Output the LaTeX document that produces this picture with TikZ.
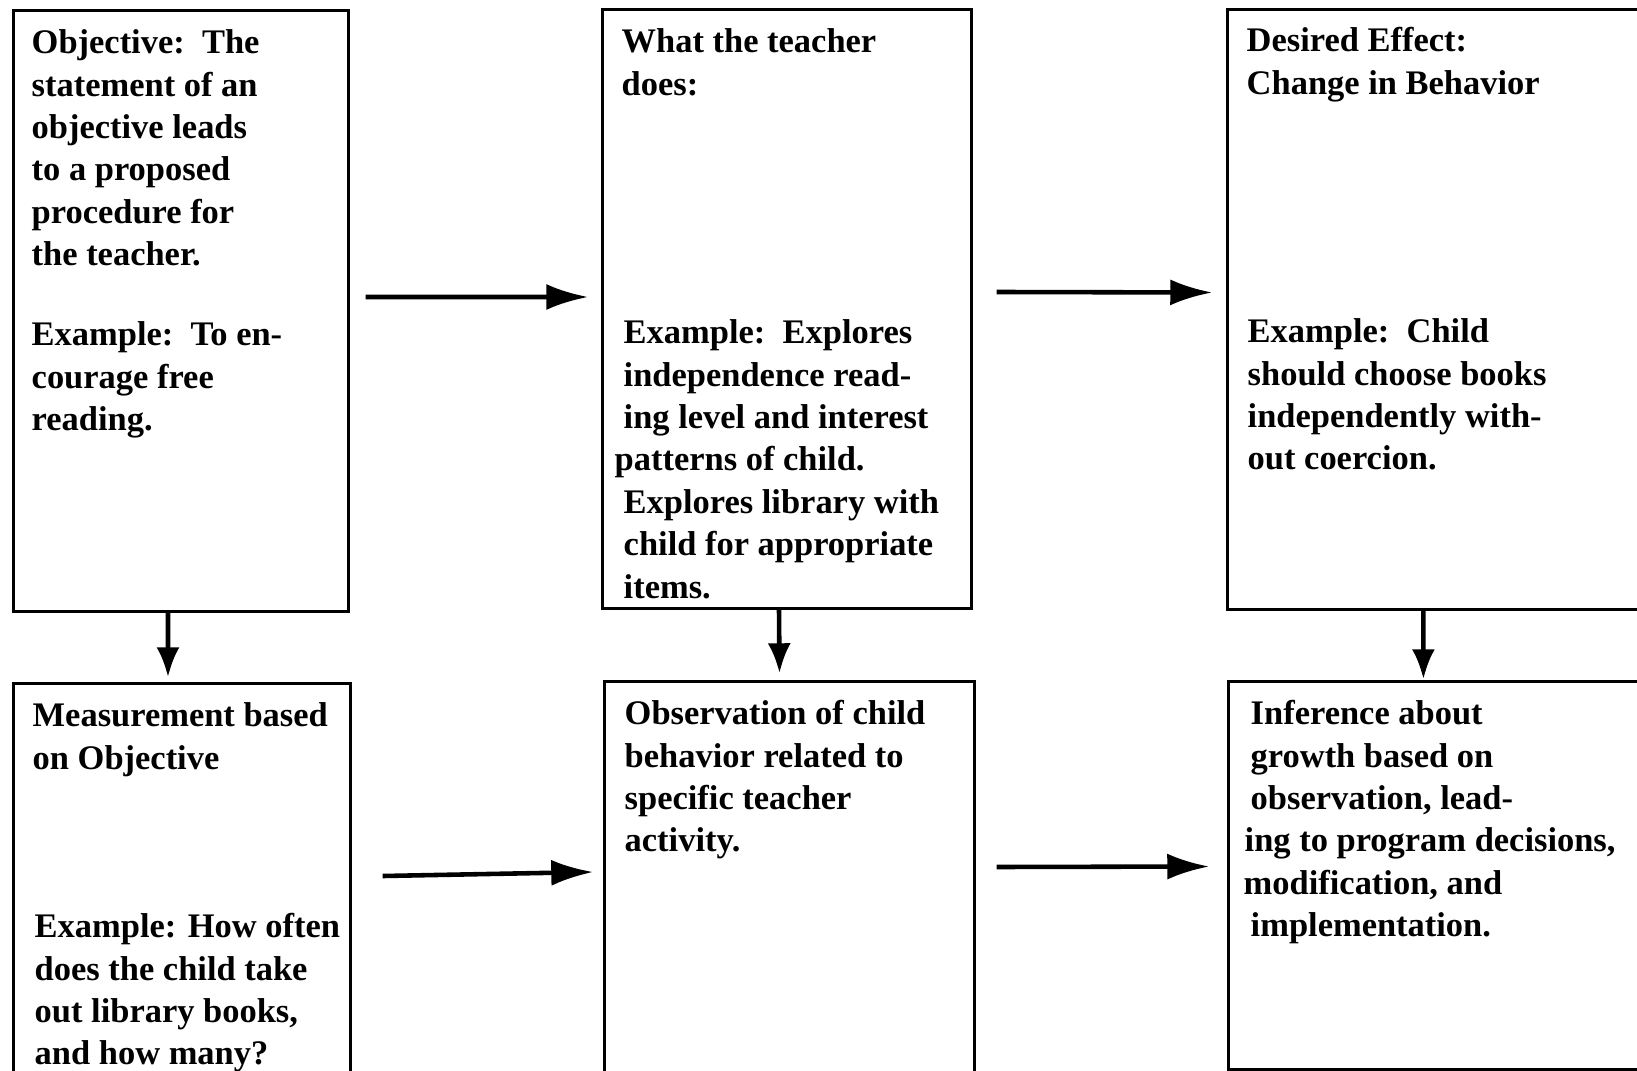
\documentclass[tikz,border=0pt]{standalone}
\usepackage{fontspec}
\setmainfont{Liberation Serif}
\usetikzlibrary{arrows.meta}

\tikzset{
  box/.style={draw, line width=0.9pt, inner sep=0pt},
  txt/.style={anchor=base west, inner sep=0pt, align=left,
    font=\fontsize{9.8}{12.04}\selectfont\bfseries},
  flow/.style={line width=1.3pt, -{Latex[length=0.42cm,width=0.26cm]}},
  drop/.style={line width=1.3pt, -{Latex[length=0.3cm,width=0.23cm]}}
}

\begin{document}
\begin{tikzpicture}[x=0.01cm, y=-0.01cm]
  \useasboundingbox (0,0) rectangle (1637,1070);
  \clip (0,0) rectangle (1637,1070);

  % Draw the boxes, top row
  \node[box, minimum width=3.34cm, minimum height=6cm] (obj) at (181,311) {};
  \node[box, minimum width=3.68cm, minimum height=5.98cm] (teach) at (787,309) {};
  \node[box, minimum width=4.72cm, minimum height=5.99cm] (effect) at (1464,309.5) {};

  % Draw the boxes, bottom row
  \node[box, minimum width=3.36cm, minimum height=3.9cm] (meas) at (182,879) {};
  \node[box, minimum width=3.69cm, minimum height=3.92cm] (obs) at (789.5,878) {};
  \node[box, minimum width=4.71cm, minimum height=3.87cm] (infer) at (1464.5,875.5) {};

  % Texts of the top row (placed at the baseline of their last line)
  \node[txt] (objhead) at (31,265.5) {Objective:\ \ The\\statement of an\\objective leads\\to a proposed\\procedure for\\the teacher.};
  \node[txt] (objex) at (31,430.6) {Example:\ \ To en-\\courage free\\reading.};

  \node[txt] (teachhead) at (621,95.3) {What the teacher\\does:};
  \node[txt] (teachex) at (623,598) {Example:\ \ Explores\\independence read-\\ing level and interest\\\hspace*{-0.09cm}patterns of child.\\Explores library with\\child for appropriate\\items.};

  \node[txt] (effecthead) at (1246,94.3) {Desired Effect:\\Change in Behavior};
  \node[txt] (effectex) at (1247,469.9) {Example:\ \ Child\\should choose books\\independently with-\\out coercion.};

  % Texts of the bottom row
  \node[txt] (meashead) at (32,769.3) {Measurement based\\on Objective};
  \node[txt] (measex) at (34,1064.9) {Example: How often\\does the child take\\out library books,\\and how many?};

  \node[txt] (obstext) at (624,851.9) {Observation of child\\behavior related to\\specific teacher\\activity.};

  \node[txt] (infertext) at (1250,936.5) {Inference about\\growth based on\\observation, lead-\\\hspace*{-0.06cm}ing to program decisions,\\\hspace*{-0.07cm}modification, and\\implementation.};

  % Draw the arrows across
  \draw[flow] ([xshift=0.16cm,yshift=0.14cm]obj.east) -- ([xshift=-0.13cm,yshift=0.12cm]teach.west);
  \draw[flow] ([xshift=0.24cm,yshift=0.17cm]teach.east) -- ([xshift=-0.14cm,yshift=0.17cm]effect.west);
  \draw[flow] ([xshift=0.31cm,yshift=0.03cm]meas.east) -- ([xshift=-0.10cm,yshift=0.06cm]obs.west);
  \draw[flow] ([xshift=0.21cm,yshift=0.11cm]obs.east) -- ([xshift=-0.18cm,yshift=0.09cm]infer.west);

  % Draw the arrows down
  \draw[drop] ([xshift=-0.13cm]obj.south) -- ([xshift=-0.14cm,yshift=0.05cm]meas.north);
  \draw[drop] ([xshift=-0.08cm]teach.south) -- ([xshift=-0.10cm,yshift=0.07cm]obs.north);
  \draw[drop] ([xshift=1.97cm]effect.south west) -- ([xshift=1.96cm,yshift=0.01cm]infer.north west);
\end{tikzpicture}
\end{document}
